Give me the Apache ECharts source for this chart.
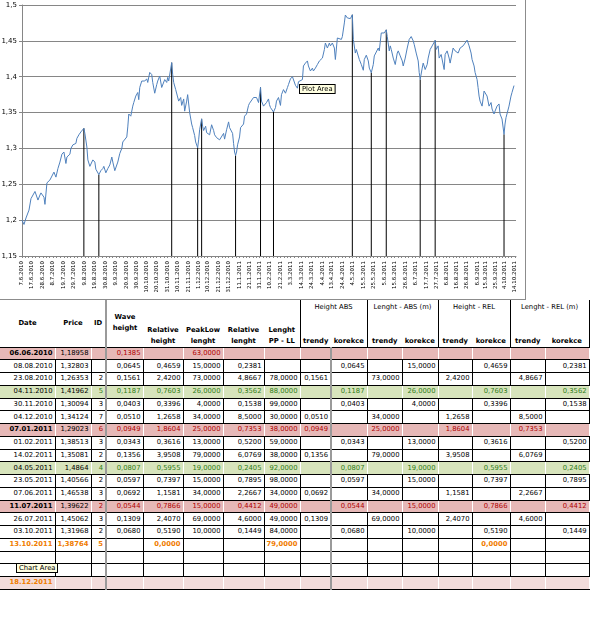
<!doctype html>
<html lang="en">
<head>
<meta charset="UTF-8">
<title>Vlny - graf a tabulka</title>
<script src="https://cdn.jsdelivr.net/npm/echarts@6.0.0/dist/echarts.min.js"></script>
<style>
    body { margin: 0; background: #fff; font-family: 'DejaVu Sans', sans-serif; }
    #main {
        position: absolute; left: 0; top: 0; width: 525px; height: 299px;
        border-right: 1px solid #8c8c8c; border-bottom: 1px solid #8c8c8c;
    }
    #sheet {
        position: absolute; left: 0; top: 300px; width: 589px;
        table-layout: fixed; border-collapse: collapse; font-size: 6.8px; color: #000;
    }
    #sheet th { font-weight: bold; padding: 0 1px; line-height: 11px; text-align: center; border: 0; color: #000; }
    #sheet th.mid { vertical-align: middle; }
    #sheet th.bot { vertical-align: bottom; padding-bottom: 0; }
    #sheet th.gl { border-left: 2px solid #9a9a9a; }
    #sheet th.grp { font-weight: normal; vertical-align: top; padding-top: 2px; border-left: 1px solid #000; border-right: 1px solid #000; }
    #sheet th.tr { border-left: 1px solid #000; }
    #sheet th.last { border-right: 1px solid #000; }
    #sheet tr.h1 { height: 16px; }
    #sheet tr.h2 { height: 31px; }
    #sheet tr.h2 th { border-bottom: 1px solid #000; }
    #sheet tr.h1 th.mid, #sheet tr.h1 th.bot { border-bottom: 1px solid #000; }
    #sheet td {
        height: 11.75px; padding: 0 2px 0 0; line-height: 11px; text-align: right;
        white-space: nowrap; overflow: hidden; border: 1px solid #000;
    }
    #sheet td:first-child { border-left: 0; }
    #sheet tr.red td { background: #e6b8b7; color: #b00000; border-left-color: #fff; border-right-color: #fff; }
    #sheet tr.red td.d { font-weight: bold; color: #000; }
    #sheet tr.red td.p { color: #000; }
    #sheet tr.green td { background: #d7e4bc; color: #2e7d16; border-left-color: #fff; border-right-color: #fff; }
    #sheet tr.green td.d, #sheet tr.green td.p { color: #000; }
    #sheet tr.orange td { color: #f07c00; font-weight: bold; }
    #sheet tr.future td { background: #f2dcdb; border-left-color: #fff; border-right-color: #fff; }
    #sheet tr.future td.d { color: #f07c00; font-weight: bold; }
    #sheet td.gl, #sheet tr.red td.gl, #sheet tr.green td.gl, #sheet tr.future td.gl { border-left: 2px solid #9a9a9a; }
    .tip {
        position: absolute; font-size: 6.8px; line-height: 8px; padding: 0 2px;
        background: #ffffe1; border: 1px solid #000;
    }
</style>
</head>
<body>
<div id="main"></div>

<table id="sheet">
    <colgroup>
        <col style="width:55px"><col style="width:36px"><col style="width:15px"><col style="width:37px">
        <col style="width:40px"><col style="width:40px"><col style="width:41px"><col style="width:36px">
        <col style="width:31px"><col style="width:36px"><col style="width:35px"><col style="width:36px">
        <col style="width:34px"><col style="width:38px"><col style="width:35px"><col style="width:44px">
    </colgroup>
    <thead>
    <tr class="h1">
        <th rowspan="2" class="mid">Date</th>
        <th rowspan="2" class="mid">Price</th>
        <th rowspan="2" class="mid">ID</th>
        <th rowspan="2" class="mid gl">Wave<br>height</th>
        <th rowspan="2" class="bot">Relative<br>height</th>
        <th rowspan="2" class="bot">PeakLow<br>lenght</th>
        <th rowspan="2" class="bot">Relative<br>lenght</th>
        <th rowspan="2" class="bot">Lenght<br>PP - LL</th>
        <th colspan="2" class="grp">Height ABS</th>
        <th colspan="2" class="grp">Lenght - ABS (m)</th>
        <th colspan="2" class="grp">Height - REL</th>
        <th colspan="2" class="grp">Lenght - REL (m)</th>
    </tr>
    <tr class="h2">
        <th class="bot tr">trendy</th><th class="bot">korekce</th>
        <th class="bot tr">trendy</th><th class="bot">korekce</th>
        <th class="bot tr">trendy</th><th class="bot">korekce</th>
        <th class="bot tr">trendy</th><th class="bot last">korekce</th>
    </tr>
    </thead>
    <tbody id="rows"></tbody>
</table>
<div class="tip" style="left:16px;top:563px;">Chart Area</div>

<script>
    // popisky osy x (jak v Excelu)
    var xLabels = ['7.6.2010', '17.6.2010', '28.6.2010', '8.7.2010', '19.7.2010', '29.7.2010', '9.8.2010',
        '19.8.2010', '30.8.2010', '9.9.2010', '20.9.2010', '30.9.2010', '10.10.2010', '20.10.2010',
        '31.10.2010', '10.11.2010', '21.11.2010', '1.12.2010', '10.12.2010', '21.12.2010', '31.12.2010',
        '11.1.2011', '21.1.2011', '31.1.2011', '10.2.2011', '21.2.2011', '3.3.2011', '14.3.2011',
        '24.3.2011', '4.4.2011', '13.4.2011', '24.4.2011', '4.5.2011', '15.5.2011', '25.5.2011',
        '5.6.2011', '15.6.2011', '26.6.2011', '6.7.2011', '17.7.2011', '27.7.2011', '6.8.2011',
        '16.8.2011', '26.8.2011', '6.9.2011', '15.9.2011', '25.9.2011', '4.10.2011', '14.10.2011'];

    var yTicks = [1.15, 1.2, 1.25, 1.3, 1.35, 1.4, 1.45, 1.5];

    // kurz
    var priceDates = [
        '2010-06-07', '2010-06-09', '2010-06-11', '2010-06-14', '2010-06-16', '2010-06-18', '2010-06-20',
        '2010-06-21', '2010-06-23', '2010-06-25', '2010-06-26', '2010-06-29', '2010-06-30',
        '2010-07-01', '2010-07-02', '2010-07-05', '2010-07-06', '2010-07-09', '2010-07-11', '2010-07-13',
        '2010-07-15', '2010-07-17', '2010-07-19', '2010-07-21', '2010-07-22', '2010-07-25', '2010-07-26',
        '2010-07-28', '2010-07-31',
        '2010-08-01', '2010-08-03', '2010-08-05', '2010-08-08', '2010-08-09', '2010-08-11', '2010-08-12',
        '2010-08-14', '2010-08-15', '2010-08-17', '2010-08-19', '2010-08-20', '2010-08-23', '2010-08-25',
        '2010-08-27', '2010-08-28', '2010-08-30',
        '2010-09-01', '2010-09-03', '2010-09-05', '2010-09-06', '2010-09-08', '2010-09-10', '2010-09-11',
        '2010-09-13', '2010-09-15', '2010-09-16', '2010-09-18', '2010-09-20', '2010-09-21', '2010-09-22',
        '2010-09-24', '2010-09-26', '2010-09-27', '2010-09-29',
        '2010-10-01', '2010-10-02', '2010-10-03', '2010-10-05', '2010-10-06', '2010-10-08', '2010-10-10',
        '2010-10-11', '2010-10-13', '2010-10-15', '2010-10-16', '2010-10-18', '2010-10-20', '2010-10-21',
        '2010-10-23', '2010-10-25', '2010-10-26', '2010-10-28', '2010-10-30', '2010-10-31',
        '2010-11-01', '2010-11-04', '2010-11-05', '2010-11-06', '2010-11-08', '2010-11-09', '2010-11-11',
        '2010-11-13', '2010-11-14', '2010-11-16', '2010-11-17', '2010-11-19', '2010-11-20', '2010-11-22',
        '2010-11-24', '2010-11-25', '2010-11-27', '2010-11-28', '2010-11-30',
        '2010-12-01', '2010-12-02', '2010-12-04', '2010-12-05', '2010-12-06', '2010-12-08', '2010-12-09',
        '2010-12-10', '2010-12-12', '2010-12-14', '2010-12-16', '2010-12-17', '2010-12-19', '2010-12-21',
        '2010-12-22', '2010-12-24', '2010-12-26', '2010-12-27', '2010-12-29', '2010-12-31',
        '2011-01-01', '2011-01-04', '2011-01-05', '2011-01-06', '2011-01-07', '2011-01-08', '2011-01-09',
        '2011-01-11', '2011-01-12', '2011-01-15', '2011-01-16', '2011-01-18', '2011-01-20', '2011-01-21',
        '2011-01-23', '2011-01-25', '2011-01-26', '2011-01-28', '2011-01-30',
        '2011-02-01', '2011-02-02', '2011-02-04', '2011-02-05', '2011-02-07', '2011-02-09', '2011-02-10',
        '2011-02-11', '2011-02-14', '2011-02-16', '2011-02-17', '2011-02-19', '2011-02-21', '2011-02-22',
        '2011-02-24', '2011-02-26', '2011-02-28',
        '2011-03-01', '2011-03-03', '2011-03-05', '2011-03-06', '2011-03-08', '2011-03-10', '2011-03-11',
        '2011-03-13', '2011-03-15', '2011-03-16', '2011-03-18', '2011-03-20', '2011-03-21', '2011-03-23',
        '2011-03-25', '2011-03-26', '2011-03-28', '2011-03-30',
        '2011-04-01', '2011-04-02', '2011-04-04', '2011-04-06', '2011-04-07', '2011-04-09', '2011-04-11',
        '2011-04-12', '2011-04-14', '2011-04-16', '2011-04-17', '2011-04-19', '2011-04-21', '2011-04-23',
        '2011-04-24', '2011-04-26', '2011-04-27', '2011-04-29',
        '2011-05-01', '2011-05-02', '2011-05-04', '2011-05-05', '2011-05-07', '2011-05-08', '2011-05-09',
        '2011-05-11', '2011-05-13', '2011-05-15', '2011-05-16', '2011-05-18', '2011-05-20', '2011-05-21',
        '2011-05-23', '2011-05-25', '2011-05-26', '2011-05-28', '2011-05-30', '2011-05-31',
        '2011-06-02', '2011-06-04', '2011-06-05', '2011-06-07', '2011-06-08', '2011-06-10', '2011-06-11',
        '2011-06-12', '2011-06-14', '2011-06-16', '2011-06-18', '2011-06-19', '2011-06-21', '2011-06-23',
        '2011-06-24', '2011-06-26', '2011-06-28', '2011-06-30',
        '2011-07-02', '2011-07-04', '2011-07-05', '2011-07-07', '2011-07-09', '2011-07-10', '2011-07-11',
        '2011-07-13', '2011-07-14', '2011-07-16', '2011-07-18', '2011-07-19', '2011-07-21', '2011-07-23',
        '2011-07-24', '2011-07-26', '2011-07-27', '2011-07-29', '2011-07-30',
        '2011-08-01', '2011-08-03', '2011-08-04', '2011-08-05', '2011-08-07', '2011-08-09', '2011-08-10',
        '2011-08-12', '2011-08-13', '2011-08-15', '2011-08-17', '2011-08-18', '2011-08-20', '2011-08-21',
        '2011-08-23', '2011-08-25', '2011-08-27', '2011-08-29', '2011-08-31',
        '2011-09-01', '2011-09-03', '2011-09-04', '2011-09-06', '2011-09-07', '2011-09-08', '2011-09-09',
        '2011-09-11', '2011-09-12', '2011-09-13', '2011-09-15', '2011-09-16', '2011-09-18', '2011-09-20',
        '2011-09-21', '2011-09-23', '2011-09-24', '2011-09-26', '2011-09-28', '2011-09-29',
        '2011-10-01', '2011-10-03', '2011-10-04', '2011-10-05', '2011-10-07', '2011-10-08', '2011-10-10',
        '2011-10-11', '2011-10-13'];
    var priceValues = [
        1.200, 1.194, 1.203, 1.214, 1.230, 1.228, 1.240,
        1.239, 1.228, 1.235, 1.238, 1.232, 1.222,
        1.220, 1.252, 1.256, 1.256, 1.267, 1.260, 1.272,
        1.281, 1.292, 1.295, 1.279, 1.288, 1.292, 1.300,
        1.305, 1.307,
        1.314, 1.319, 1.323, 1.32803, 1.321, 1.302, 1.284,
        1.275, 1.277, 1.284, 1.281, 1.271, 1.26353, 1.269,
        1.272, 1.275, 1.266,
        1.272, 1.277, 1.288, 1.281, 1.269, 1.267, 1.281,
        1.293, 1.300, 1.309, 1.307, 1.316, 1.330, 1.348,
        1.345, 1.359, 1.364, 1.373,
        1.378, 1.368, 1.385, 1.394, 1.396, 1.394, 1.397,
        1.392, 1.406, 1.403, 1.392, 1.377, 1.389, 1.394,
        1.401, 1.385, 1.387, 1.396, 1.392, 1.399,
        1.394, 1.41962, 1.403, 1.392, 1.382, 1.380, 1.366,
        1.371, 1.360, 1.369, 1.352, 1.366, 1.375, 1.350,
        1.334, 1.329, 1.318, 1.309, 1.30094,
        1.312, 1.326, 1.34124, 1.331, 1.325, 1.331, 1.322,
        1.323, 1.319, 1.333, 1.325, 1.319, 1.315, 1.314,
        1.312, 1.314, 1.321, 1.313, 1.326, 1.337,
        1.329, 1.321, 1.307, 1.295, 1.29023, 1.295, 1.305,
        1.316, 1.329, 1.334, 1.345, 1.348, 1.360, 1.363,
        1.364, 1.371, 1.369, 1.371, 1.364,
        1.38513, 1.366, 1.359, 1.361, 1.364, 1.369, 1.361,
        1.357, 1.35081, 1.357, 1.366, 1.371, 1.360, 1.375,
        1.382, 1.377, 1.385,
        1.389, 1.397, 1.400, 1.398, 1.388, 1.384, 1.393,
        1.393, 1.396, 1.415, 1.419, 1.422, 1.415, 1.408,
        1.412, 1.408, 1.412, 1.417,
        1.422, 1.422, 1.426, 1.438, 1.447, 1.440, 1.447,
        1.443, 1.447, 1.440, 1.424, 1.454, 1.454, 1.452,
        1.456, 1.475, 1.486, 1.482,
        1.481, 1.481, 1.4864, 1.452, 1.433, 1.438, 1.439,
        1.424, 1.417, 1.409, 1.424, 1.430, 1.422, 1.412,
        1.40566, 1.417, 1.429, 1.431, 1.440, 1.436,
        1.461, 1.463, 1.461, 1.46538, 1.456, 1.436, 1.443,
        1.438, 1.426, 1.417, 1.433, 1.436, 1.429, 1.422,
        1.415, 1.426, 1.440, 1.452,
        1.456, 1.450, 1.445, 1.433, 1.422, 1.406, 1.39622,
        1.412, 1.419, 1.410, 1.417, 1.426, 1.438, 1.443,
        1.445, 1.45062, 1.438, 1.443, 1.426,
        1.431, 1.429, 1.410, 1.431, 1.436, 1.426, 1.419,
        1.433, 1.440, 1.436, 1.438, 1.433, 1.440, 1.439,
        1.443, 1.445, 1.451, 1.443, 1.433,
        1.424, 1.415, 1.406, 1.396, 1.385, 1.373, 1.366,
        1.359, 1.369, 1.380, 1.382, 1.373, 1.359, 1.364,
        1.355, 1.348, 1.352, 1.359, 1.362, 1.348,
        1.341, 1.31968, 1.334, 1.343, 1.341, 1.359, 1.373,
        1.378, 1.38764];

    // tabulka vln
    var tableDate = ['06.06.2010', '08.08.2010', '23.08.2010', '04.11.2010', '30.11.2010', '04.12.2010',
        '07.01.2011', '01.02.2011', '14.02.2011', '04.05.2011', '23.05.2011', '07.06.2011',
        '11.07.2011', '26.07.2011', '03.10.2011', '13.10.2011'];
    var tablePrice = [1.18958, 1.32803, 1.26353, 1.41962, 1.30094, 1.34124, 1.29023, 1.38513,
        1.35081, 1.4864, 1.40566, 1.46538, 1.39622, 1.45062, 1.31968, 1.38764];
    var tableId = [null, null, 2, 5, 3, 7, 6, 3, 2, 4, 2, 3, 2, 3, 2, 5];
    var waveHeight = [0.1385, 0.0645, 0.1561, 0.1187, 0.0403, 0.0510, 0.0949, 0.0343, 0.1356,
        0.0807, 0.0597, 0.0692, 0.0544, 0.1309, 0.0680, null];
    var relHeight = [null, 0.4659, 2.4200, 0.7603, 0.3396, 1.2658, 1.8604, 0.3616, 3.9508,
        0.5955, 0.7397, 1.1581, 0.7866, 2.4070, 0.5190, 0.0000];
    var peakLowLen = [63, 15, 73, 26, 4, 34, 25, 13, 79, 19, 15, 34, 15, 69, 10, null];
    var relLen = [null, 0.2381, 4.8667, 0.3562, 0.1538, 8.5000, 0.7353, 0.5200, 6.0769,
        0.2405, 0.7895, 2.2667, 0.4412, 4.6000, 0.1449, null];
    var lenPPLL = [null, null, 78, 88, 99, 30, 38, 59, 38, 92, 98, 34, 49, 49, 84, 79];
    var waveKind = ['', 'K', 'T', 'K', 'K', 'T', 'T', 'K', 'T', 'K', 'K', 'T', 'K', 'T', 'K', 'K'];
    var rowTone = ['red', '', '', 'green', '', '', 'red', '', '', 'green', '', '', 'red', '', '', 'orange'];
    var extraRows = ['', '', '18.12.2011'];

    function dmy(s) {
        var p = s.split('.');
        return new Date(+p[2], +p[1] - 1, +p[0]).getTime();
    }
    function ymd(s) {
        var p = s.split('-');
        return new Date(+p[0], +p[1] - 1, +p[2]).getTime();
    }
    function fmt4(v) { return v == null ? '' : v.toFixed(4).replace('.', ','); }

    // ---- tabulka ----
    var tbody = document.getElementById('rows');
    function addRow(cells, tone) {
        var tr = document.createElement('tr');
        if (tone) tr.className = tone;
        cells.forEach(function (c, j) {
            var td = document.createElement('td');
            td.textContent = c;
            if (j === 0) td.className = 'd';
            if (j === 1) td.className = 'p';
            if (j === 3 || j === 9) td.className = 'gl';
            tr.appendChild(td);
        });
        tbody.appendChild(tr);
    }

    tableDate.forEach(function (d, i) {
        var k = waveKind[i];
        addRow([
            d,
            String(tablePrice[i]).replace('.', ','),
            tableId[i] == null ? '' : String(tableId[i]),
            fmt4(waveHeight[i]), fmt4(relHeight[i]), fmt4(peakLowLen[i]), fmt4(relLen[i]), fmt4(lenPPLL[i]),
            k === 'T' ? fmt4(waveHeight[i]) : '', k === 'K' ? fmt4(waveHeight[i]) : '',
            k === 'T' ? fmt4(peakLowLen[i]) : '', k === 'K' ? fmt4(peakLowLen[i]) : '',
            k === 'T' ? fmt4(relHeight[i]) : '', k === 'K' ? fmt4(relHeight[i]) : '',
            k === 'T' ? fmt4(relLen[i]) : '', k === 'K' ? fmt4(relLen[i]) : ''
        ], rowTone[i]);
    });
    extraRows.forEach(function (d) {
        var cells = [d];
        for (var j = 1; j < 16; j++) cells.push('');
        addRow(cells, d ? 'future' : '');
    });

    // ---- graf ----
    var labelTimes = xLabels.map(dmy);
    var tickTimes = [];
    labelTimes.forEach(function (t, i) {
        tickTimes.push(t);
        if (i < labelTimes.length - 1) {
            var step = (labelTimes[i + 1] - t) / 3;
            tickTimes.push(t + step, t + 2 * step);
        }
    });

    var priceData = priceDates.map(function (d, i) { return [ymd(d), priceValues[i]]; });

    // svisle cary od vrcholu / dna k ose
    var levelData = [];
    tableDate.forEach(function (d, i) {
        if (waveKind[i] === '' || waveHeight[i] == null) return;
        var t = dmy(d);
        levelData.push([t, tablePrice[i]], [t, yTicks[0]], [t, '-']);
    });

    var myChart = echarts.init(document.getElementById('main'));
    var option = {
        animation: false,
        backgroundColor: '#fff',
        textStyle: {fontFamily: 'DejaVu Sans'},
        grid: {left: 22, top: 5, width: 494, height: 251, outerBoundsMode: 'none', containLabel: false},
        xAxis: {
            type: 'value',
            min: ymd('2010-06-07'),
            max: ymd('2011-10-15'),
            splitLine: {show: false},
            axisLine: {lineStyle: {color: '#868686', width: 1}},
            axisTick: {show: true, length: 2, customValues: tickTimes, lineStyle: {color: '#868686'}},
            axisLabel: {
                customValues: labelTimes,
                rotate: 90,
                margin: 5,
                fontSize: 5.5,
                color: '#000',
                fontFamily: 'DejaVu Sans',
                formatter: function (v) {
                    var d = new Date(v);
                    return d.getDate() + '.' + (d.getMonth() + 1) + '.' + d.getFullYear();
                }
            }
        },
        yAxis: {
            type: 'value',
            min: 1.15,
            max: 1.5,
            interval: 0.05,
            axisLine: {show: true, lineStyle: {color: '#868686'}},
            axisTick: {show: true, length: 3, lineStyle: {color: '#868686'}},
            splitLine: {lineStyle: {color: '#868686', width: 1}},
            axisLabel: {
                fontSize: 7,
                color: '#000',
                margin: 5,
                fontFamily: 'DejaVu Sans',
                formatter: function (v) { return String(+v.toFixed(2)).replace('.', ','); }
            }
        },
        series: [{
            name: 'levels',
            type: 'line',
            data: levelData,
            symbol: 'none',
            connectNulls: false,
            lineStyle: {color: '#000', width: 1},
            z: 1
        }, {
            name: 'price',
            type: 'line',
            data: priceData,
            symbol: 'none',
            lineStyle: {color: '#4f81bd', width: 1},
            z: 2
        }],
        graphic: [{
            type: 'text',
            left: 299,
            top: 84,
            z: 100,
            style: {
                text: 'Plot Area',
                font: '6.8px DejaVu Sans',
                fill: '#000',
                backgroundColor: '#ffffe1',
                borderColor: '#000',
                borderWidth: 1,
                padding: [1, 2, 0, 2]
            }
        }]
    };
    myChart.setOption(option);
</script>
</body>
</html>
